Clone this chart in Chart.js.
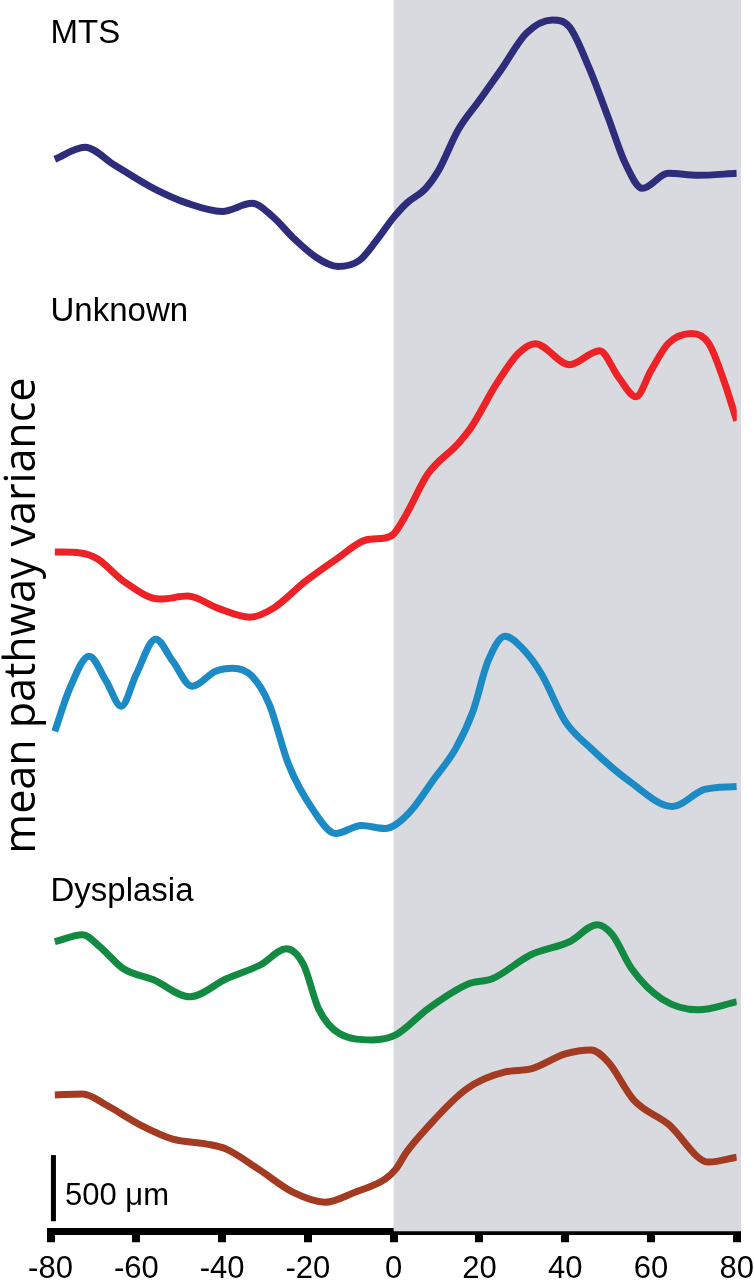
<!DOCTYPE html>
<html lang="en">
<head>
    <meta charset="UTF-8">
    <title>Mean pathway variance</title>
    <script src="https://cdn.jsdelivr.net/npm/chart.js"></script>
    <style>
        body {
            margin: 0;
            background-color: #fff;
        }
        #chart {
            display: block;
        }
    </style>
</head>
<body>
    <canvas id="chart" width="754" height="1280"></canvas>

    <script>
        // distance from the seizure onset zone (x) and mean variance (y, arbitrary units, stacked traces)
        var mtsX = [-79, -72, -65, -56, -48, -40, -33, -28, -23.5, -18, -13, -8, -4, 0, 3, 7.5, 10.5, 15, 20, 25, 31, 37, 41, 45.5, 50, 54, 58, 64, 71, 80];
        var mtsY = [1070, 1082, 1064, 1041, 1026, 1018, 1026, 1012, 992, 972, 963, 969, 989, 1012, 1026, 1041, 1059, 1099, 1129, 1159, 1196, 1209, 1202, 1162, 1112, 1066, 1041, 1056, 1054, 1056];

        var unknownX = [-79, -73, -69, -63, -54.5, -48, -41, -33.5, -28, -20.5, -13, -6.5, -2, 0, 3, 8, 15, 18, 24, 29, 33, 41, 48, 52.5, 56.5, 60, 64, 69.5, 73.5, 77, 80];
        var unknownY = [678, 677, 671, 649, 631, 634, 622, 613, 622, 649, 672, 690, 692, 696, 716, 756, 786, 802, 846, 876, 886, 865, 879, 852, 833, 859, 886, 896, 886, 849, 809];

        var thirdX = [-79, -75.5, -71, -67, -63.5, -60, -55.5, -51.5, -47, -41.5, -37.5, -33, -29, -24.5, -19, -13.5, -7.5, -2, 0.5, 4.5, 9, 14.5, 18.5, 22, 26, 30, 34.5, 40, 46, 55, 65, 72.5, 80];
        var thirdY = [499, 542, 574, 549, 524, 556, 591, 569, 544, 559, 562, 554, 526, 466, 422, 397, 405, 402, 406, 422, 449, 482, 519, 569, 594, 582, 556, 509, 482, 449, 424, 441, 444];

        var dysX = [-79, -72.5, -68.5, -63, -56, -47.5, -39, -31, -25, -21, -17.5, -12.5, -5, 0.5, 8, 17.5, 23, 32, 41, 47.5, 51, 55.5, 62.5, 71, 80];
        var dysY = [289, 296, 284, 262, 251, 234, 252, 266, 282, 266, 222, 197, 191, 196, 222, 247, 252, 276, 289, 306, 296, 262, 232, 221, 229];

        var lastX = [-79, -72.5, -67, -59, -51.5, -43.5, -39, -31.5, -23.5, -16, -9, -2, 0.5, 3, 7.5, 17, 26, 32, 40, 46, 50, 56, 64, 73.5, 80];
        var lastY = [136, 137, 126, 106, 92, 87, 82, 62, 39, 29, 39, 52, 62, 79, 102, 142, 159, 162, 177, 181, 169, 131, 107, 69, 74];

        var xTicks = [-80, -60, -40, -20, 0, 20, 40, 60, 80];
        var groupNames = ['MTS', 'Unknown', 'Dysplasia'];
        var groupLabelY = [1186, 909, 330];
        var shadeRange = [0, 81];
        var scaleBar = [10, 76];   // 500 um

        function pts(xs, ys) {
            var out = [];
            for (var i = 0; i < xs.length; i++) {
                out.push({ x: xs[i], y: ys[i] });
            }
            return out;
        }

        function trace(xs, ys, color) {
            return {
                data: pts(xs, ys),
                borderColor: color,
                borderWidth: 7,
                borderCapStyle: 'butt',
                pointRadius: 0,
                fill: false,
                cubicInterpolationMode: 'monotone'
            };
        }

        // grey band for the positive side
        var shadePlugin = {
            id: 'shade',
            beforeDatasetsDraw: function(chart) {
                var ctx = chart.ctx;
                var x = chart.scales.x;
                var area = chart.chartArea;
                var x0 = x.getPixelForValue(shadeRange[0]);
                var x1 = x.getPixelForValue(shadeRange[1]);
                ctx.save();
                ctx.fillStyle = '#d9dadf';
                ctx.fillRect(x0, area.top, x1 - x0, area.bottom - area.top);
                ctx.restore();
            }
        };

        var notesPlugin = {
            id: 'notes',
            afterDatasetsDraw: function(chart) {
                var ctx = chart.ctx;
                var x = chart.scales.x;
                var y = chart.scales.y;
                ctx.save();
                ctx.fillStyle = '#000';
                ctx.font = '33px "Liberation Sans", Arial, sans-serif';
                ctx.textBaseline = 'alphabetic';
                ctx.textAlign = 'left';
                for (var i = 0; i < groupNames.length; i++) {
                    ctx.fillText(groupNames[i], x.getPixelForValue(-80), y.getPixelForValue(groupLabelY[i]));
                }

                // scale bar
                var bx = x.getPixelForValue(-79.2);
                var top = y.getPixelForValue(scaleBar[1]);
                var bottom = y.getPixelForValue(scaleBar[0]);
                ctx.fillRect(bx - 3, top, 5, bottom - top);
                ctx.font = '31px "Liberation Sans", Arial, sans-serif';
                ctx.fillText('500 \u03bcm', bx + 11, bottom - 16);
                ctx.restore();
            }
        };

        var ctx = document.getElementById('chart').getContext('2d');
        var chart = new Chart(ctx, {
            type: 'line',
            data: {
                datasets: [
                    trace(mtsX, mtsY, '#2e2d7b'),
                    trace(unknownX, unknownY, '#ed2226'),
                    trace(thirdX, thirdY, '#1b8ac5'),
                    trace(dysX, dysY, '#138a41'),
                    trace(lastX, lastY, '#a33a22')
                ]
            },
            options: {
                responsive: false,
                animation: false,
                layout: {
                    padding: { left: 1.5, right: 16, top: 0, bottom: -16.5 }
                },
                plugins: {
                    legend: { display: false },
                    tooltip: { enabled: false }
                },
                scales: {
                    x: {
                        type: 'linear',
                        min: -80,
                        max: 80,
                        afterBuildTicks: function(scale) {
                            scale.ticks = xTicks.map(function(v) { return { value: v }; });
                        },
                        ticks: {
                            color: '#000',
                            padding: 0,
                            font: { family: '"Liberation Sans", Arial, sans-serif', size: 31, lineHeight: 1.75 }
                        },
                        grid: {
                            display: true,
                            drawOnChartArea: false,
                            drawTicks: true,
                            tickLength: 11,
                            lineWidth: 8,
                            color: '#000'
                        },
                        border: { display: true, width: 7, color: '#000' }
                    },
                    y: {
                        min: 0,
                        max: 1229,
                        ticks: { display: false },
                        grid: { display: false, drawTicks: false },
                        border: { display: false },
                        title: {
                            display: true,
                            text: 'mean pathway variance',
                            color: '#000',
                            padding: { top: 0, bottom: 6 },
                            font: { family: '"Open Sans", sans-serif', size: 43, lineHeight: 1 }
                        }
                    }
                }
            },
            plugins: [shadePlugin, notesPlugin]
        });
    </script>
</body>
</html>
